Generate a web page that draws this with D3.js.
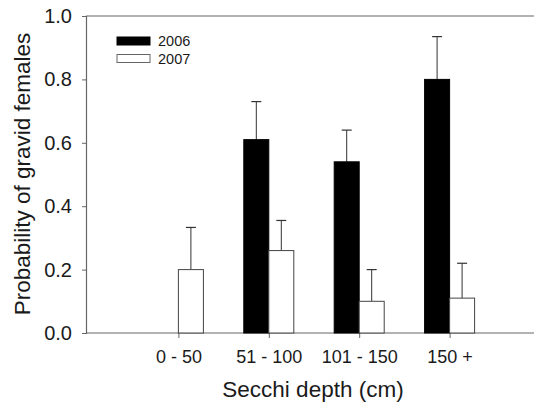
<!DOCTYPE html>
<html><head><meta charset="utf-8">
<script src="https://cdn.jsdelivr.net/npm/d3@7"></script>
<style>body{margin:0;background:#fff}svg{display:block}text{font-family:Arial,"Liberation Sans",sans-serif;fill:#1a1a1a}</style>
</head><body>
<script>
const categories = ["0 - 50", "51 - 100", "101 - 150", "150 +"];
const series = ["2006", "2007"];
const values2006 = [null, 0.61, 0.54, 0.80];
const upper2006 = [null, 0.73, 0.64, 0.935];
const values2007 = [0.20, 0.26, 0.10, 0.11];
const upper2007 = [0.333, 0.355, 0.20, 0.22];
const yTicks = [0, 0.2, 0.4, 0.6, 0.8, 1.0];

const W = 534, H = 405;
const svg = d3.select("body").append("svg").attr("width", W).attr("height", H);
const x0 = 86, yBot = 333, yTop = 16;
const x = d3.scalePoint().domain(categories).range([88, 540]).padding(1);
const y = d3.scaleLinear().domain([0, 1]).range([yBot, yTop]);
const bw = 25;
const axisColor = "#666";

// frame top line
svg.append("line").attr("x1", x0).attr("x2", W).attr("y1", yTop).attr("y2", yTop)
  .attr("stroke", axisColor).attr("stroke-width", 1.2);

// y axis
const ya = svg.append("g").attr("transform", `translate(${x0},0)`)
  .call(d3.axisLeft(y).tickValues(yTicks).tickFormat(d3.format(".1f")).tickSize(4).tickPadding(10));
ya.select(".domain").attr("stroke", axisColor).attr("stroke-width", 1.2);
ya.selectAll(".tick line").attr("stroke", axisColor);
ya.selectAll("text").attr("font-size", 20).attr("fill", "#1a1a1a");

// x axis
const xa = svg.append("g").attr("transform", `translate(0,${yBot})`)
  .call(d3.axisBottom(x).tickSize(5).tickPadding(12));
xa.select(".domain").remove();
xa.append("line").attr("x1", x0).attr("x2", W).attr("stroke", axisColor).attr("stroke-width", 1.2);
xa.selectAll(".tick line").attr("stroke", axisColor);
xa.selectAll("text").attr("font-size", 18).attr("fill", "#1a1a1a");

// bars
const data = [];
categories.forEach((c, i) => {
  if (values2006[i] != null) data.push({c, v: values2006[i], u: upper2006[i], s: 0});
  if (values2007[i] != null) data.push({c, v: values2007[i], u: upper2007[i], s: 1});
});
const g = svg.append("g");
data.forEach(d => {
  const cx = x(d.c) + (d.s === 0 ? -bw / 2 : bw / 2);
  g.append("line").attr("x1", cx).attr("x2", cx).attr("y1", y(d.v)).attr("y2", y(d.u))
    .attr("stroke", "#333").attr("stroke-width", 1);
  g.append("line").attr("x1", cx - 5).attr("x2", cx + 5).attr("y1", y(d.u)).attr("y2", y(d.u))
    .attr("stroke", "#333").attr("stroke-width", 1.2);
});
g.selectAll("rect.bar").data(data).enter().append("rect").attr("class", "bar")
  .attr("x", d => x(d.c) + (d.s === 0 ? -bw : 0))
  .attr("y", d => y(d.v))
  .attr("width", bw)
  .attr("height", d => yBot - y(d.v))
  .attr("fill", d => d.s === 0 ? "#000" : "#fff")
  .attr("stroke", d => d.s === 0 ? "#000" : "#444")
  .attr("stroke-width", 1);

// legend
const leg = svg.append("g");
series.forEach((s, i) => {
  const ly = 37 + i * 17.5;
  leg.append("rect").attr("x", 117).attr("y", ly).attr("width", 33).attr("height", 8)
    .attr("fill", i === 0 ? "#000" : "#fff").attr("stroke", i === 0 ? "#000" : "#666");
  leg.append("text").attr("x", 158).attr("y", ly + 9).attr("font-size", 14.5).text(s);
});

// axis titles
svg.append("text").attr("x", 313).attr("y", 397).attr("text-anchor", "middle")
  .attr("font-size", 22.5).text("Secchi depth (cm)");
svg.append("text").attr("transform", "translate(30,174) rotate(-90)").attr("text-anchor", "middle")
  .attr("font-size", 22.5).text("Probability of gravid females");
</script>
</body></html>
